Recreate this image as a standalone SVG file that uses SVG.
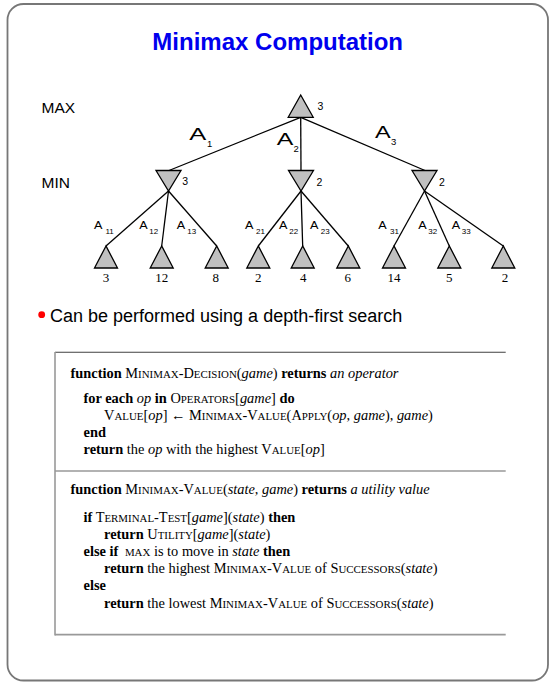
<svg xmlns="http://www.w3.org/2000/svg" width="560" height="686" viewBox="0 0 560 686">
<style>
.tri{fill:#c0c0c0;stroke:#000;stroke-width:1.3;stroke-linejoin:miter}
.edge{stroke:#000;stroke-width:1.3;fill:none}
.sans{font-family:"Liberation Sans",Arial,sans-serif;fill:#000}
.lvl{font-size:15.5px}
.val{font-size:10.5px}
.bigA{font-size:16px}
.bigS{font-size:9.5px}
.smA{font-size:10px}
.smS{font-size:8px}
.leaf{font-family:"Liberation Serif","Times New Roman",serif;font-size:13px;text-anchor:middle}
.code{font-family:"Liberation Serif","Times New Roman",serif;font-size:14.4px;fill:#000}
.b{font-weight:bold}
.i{font-style:italic}
.sc{font-size:10.9px}
</style>
<rect x="7.5" y="4" width="540.5" height="676.5" rx="16" ry="16" fill="#fff" stroke="#777" stroke-width="1.8"/>
<text x="277.7" y="50" text-anchor="middle" font-family="Liberation Sans,Arial,sans-serif" font-weight="bold" font-size="24" fill="#0000EE">Minimax Computation</text>
<text class="sans lvl" x="41.5" y="113.3">MAX</text>
<text class="sans lvl" x="41.5" y="188.3">MIN</text>
<g id="connectors">
<line class="edge" x1="300.7" y1="117.3" x2="169" y2="170.5"/>
<line class="edge" x1="300.7" y1="117.3" x2="301" y2="170.5"/>
<line class="edge" x1="300.7" y1="117.3" x2="425" y2="170.5"/>
<line class="edge" x1="168.5" y1="191" x2="106" y2="246"/>
<line class="edge" x1="168.5" y1="191" x2="161.7" y2="246"/>
<line class="edge" x1="168.5" y1="191" x2="216.7" y2="246"/>
<line class="edge" x1="301" y1="191" x2="258.3" y2="246"/>
<line class="edge" x1="301" y1="191" x2="302.7" y2="246"/>
<line class="edge" x1="301" y1="191" x2="348.3" y2="246"/>
<line class="edge" x1="424.5" y1="191" x2="394" y2="246"/>
<line class="edge" x1="424.5" y1="191" x2="449.3" y2="246"/>
<line class="edge" x1="424.5" y1="191" x2="503.3" y2="246"/>
<g id="edge-labels" class="sans">
<text class="bigA" x="189.3" y="140" textLength="17" lengthAdjust="spacingAndGlyphs">A</text><text class="bigS" x="207" y="146.5">1</text>
<text class="bigA" x="276.7" y="145" textLength="16.6" lengthAdjust="spacingAndGlyphs">A</text><text class="bigS" x="293.5" y="151.5">2</text>
<text class="bigA" x="375" y="138.3" textLength="15.7" lengthAdjust="spacingAndGlyphs">A</text><text class="bigS" x="391" y="145">3</text>
<text class="smA" x="94" y="228.5" textLength="8.4" lengthAdjust="spacingAndGlyphs">A</text><text class="smS" x="105.5" y="234">11</text>
<text class="smA" x="139.3" y="228.5" textLength="8.4" lengthAdjust="spacingAndGlyphs">A</text><text class="smS" x="149.3" y="234">12</text>
<text class="smA" x="176.7" y="228.5" textLength="8.4" lengthAdjust="spacingAndGlyphs">A</text><text class="smS" x="187.3" y="234">13</text>
<text class="smA" x="245" y="228.5" textLength="8.4" lengthAdjust="spacingAndGlyphs">A</text><text class="smS" x="256" y="234">21</text>
<text class="smA" x="279" y="228.5" textLength="8.4" lengthAdjust="spacingAndGlyphs">A</text><text class="smS" x="289.3" y="234">22</text>
<text class="smA" x="310" y="228.5" textLength="8.4" lengthAdjust="spacingAndGlyphs">A</text><text class="smS" x="320.7" y="234">23</text>
<text class="smA" x="378.3" y="228.5" textLength="8.4" lengthAdjust="spacingAndGlyphs">A</text><text class="smS" x="390" y="234">31</text>
<text class="smA" x="418.3" y="228.5" textLength="8.4" lengthAdjust="spacingAndGlyphs">A</text><text class="smS" x="428.3" y="234">32</text>
<text class="smA" x="451.7" y="228.5" textLength="8.4" lengthAdjust="spacingAndGlyphs">A</text><text class="smS" x="461.7" y="234">33</text>
</g>
</g>
<g id="root"><polygon class="tri" points="300.7,95 288.2,117.3 313.2,117.3"/><text class="sans val" x="317.5" y="110.3">3</text></g>
<g id="min1"><polygon class="tri" points="156,170.5 181,170.5 168.5,191"/><text class="sans val" x="182.3" y="185.3">3</text></g>
<g id="min2"><polygon class="tri" points="288.5,170.5 313.5,170.5 301,191"/><text class="sans val" x="316.5" y="185.5">2</text></g>
<g id="min3"><polygon class="tri" points="412,170.5 437,170.5 424.5,191"/><text class="sans val" x="439" y="185.5">2</text></g>
<g id="leaf11"><polygon class="tri" points="106,246 94.5,268 117.5,268"/><text class="leaf" x="106" y="281.5">3</text></g>
<g id="leaf12"><polygon class="tri" points="161.7,246 150.2,268 173.2,268"/><text class="leaf" x="161.7" y="281.5">12</text></g>
<g id="leaf13"><polygon class="tri" points="216.7,246 205.2,268 228.2,268"/><text class="leaf" x="215.7" y="281.5">8</text></g>
<g id="leaf21"><polygon class="tri" points="258.3,246 246.8,268 269.8,268"/><text class="leaf" x="258.3" y="281.5">2</text></g>
<g id="leaf22"><polygon class="tri" points="302.7,246 291.2,268 314.2,268"/><text class="leaf" x="303.2" y="281.5">4</text></g>
<g id="leaf23"><polygon class="tri" points="348.3,246 336.8,268 359.8,268"/><text class="leaf" x="347.8" y="281.5">6</text></g>
<g id="leaf31"><polygon class="tri" points="394,246 382.5,268 405.5,268"/><text class="leaf" x="394" y="281.5">14</text></g>
<g id="leaf32"><polygon class="tri" points="449.3,246 437.8,268 460.8,268"/><text class="leaf" x="449.3" y="281.5">5</text></g>
<g id="leaf33"><polygon class="tri" points="503.3,246 491.8,268 514.8,268"/><text class="leaf" x="505" y="281.5">2</text></g>
<g id="bullet">
<circle cx="41.7" cy="314.7" r="3.4" fill="#f00"/>
<text class="sans" x="50" y="321.7" font-size="18">Can be performed using a depth-first search</text>
</g>
<g id="pseudocode">
<line x1="55" y1="352.3" x2="505.7" y2="352.3" stroke="#404040" stroke-width="1.1"/>
<line x1="55" y1="352" x2="55" y2="635.5" stroke="#999" stroke-width="1.6"/>
<line x1="55" y1="471" x2="505.7" y2="471" stroke="#999" stroke-width="1.3"/>
<line x1="55" y1="634.7" x2="505.7" y2="634.7" stroke="#999" stroke-width="1.7"/>
<text class="code" x="70.5" y="377.5"><tspan class="b">function</tspan> M<tspan class="sc">INIMAX</tspan>-D<tspan class="sc">ECISION</tspan>(<tspan class="i">game</tspan>) <tspan class="b">returns</tspan> <tspan class="i">an operator</tspan></text>
<text class="code" x="83.5" y="402.5"><tspan class="b">for each</tspan> <tspan class="i">op</tspan> <tspan class="b">in</tspan> O<tspan class="sc">PERATORS</tspan>[<tspan class="i">game</tspan>] <tspan class="b">do</tspan></text>
<text class="code" x="104" y="419.5">V<tspan class="sc">ALUE</tspan>[<tspan class="i">op</tspan>] ← M<tspan class="sc">INIMAX</tspan>-V<tspan class="sc">ALUE</tspan>(A<tspan class="sc">PPLY</tspan>(<tspan class="i">op</tspan>, <tspan class="i">game</tspan>), <tspan class="i">game</tspan>)</text>
<text class="code" x="83.5" y="437"><tspan class="b">end</tspan></text>
<text class="code" x="83.5" y="454"><tspan class="b">return</tspan> the <tspan class="i">op</tspan> with the highest V<tspan class="sc">ALUE</tspan>[<tspan class="i">op</tspan>]</text>
<text class="code" x="70.5" y="494"><tspan class="b">function</tspan> M<tspan class="sc">INIMAX</tspan>-V<tspan class="sc">ALUE</tspan>(<tspan class="i">state, game</tspan>) <tspan class="b">returns</tspan> <tspan class="i">a utility value</tspan></text>
<text class="code" x="83.5" y="522"><tspan class="b">if</tspan> T<tspan class="sc">ERMINAL</tspan>-T<tspan class="sc">EST</tspan>[<tspan class="i">game</tspan>](<tspan class="i">state</tspan>) <tspan class="b">then</tspan></text>
<text class="code" x="104" y="539"><tspan class="b">return</tspan> U<tspan class="sc">TILITY</tspan>[<tspan class="i">game</tspan>](<tspan class="i">state</tspan>)</text>
<text class="code" x="83.5" y="556"><tspan class="b">else if</tspan> <tspan class="sc" dx="3">MAX</tspan> is to move in <tspan class="i">state</tspan> <tspan class="b">then</tspan></text>
<text class="code" x="104" y="573"><tspan class="b">return</tspan> the highest M<tspan class="sc">INIMAX</tspan>-V<tspan class="sc">ALUE</tspan> of S<tspan class="sc">UCCESSORS</tspan>(<tspan class="i">state</tspan>)</text>
<text class="code" x="83.5" y="590"><tspan class="b">else</tspan></text>
<text class="code" x="104" y="607.5"><tspan class="b">return</tspan> the lowest M<tspan class="sc">INIMAX</tspan>-V<tspan class="sc">ALUE</tspan> of S<tspan class="sc">UCCESSORS</tspan>(<tspan class="i">state</tspan>)</text>
</g>
</svg>
